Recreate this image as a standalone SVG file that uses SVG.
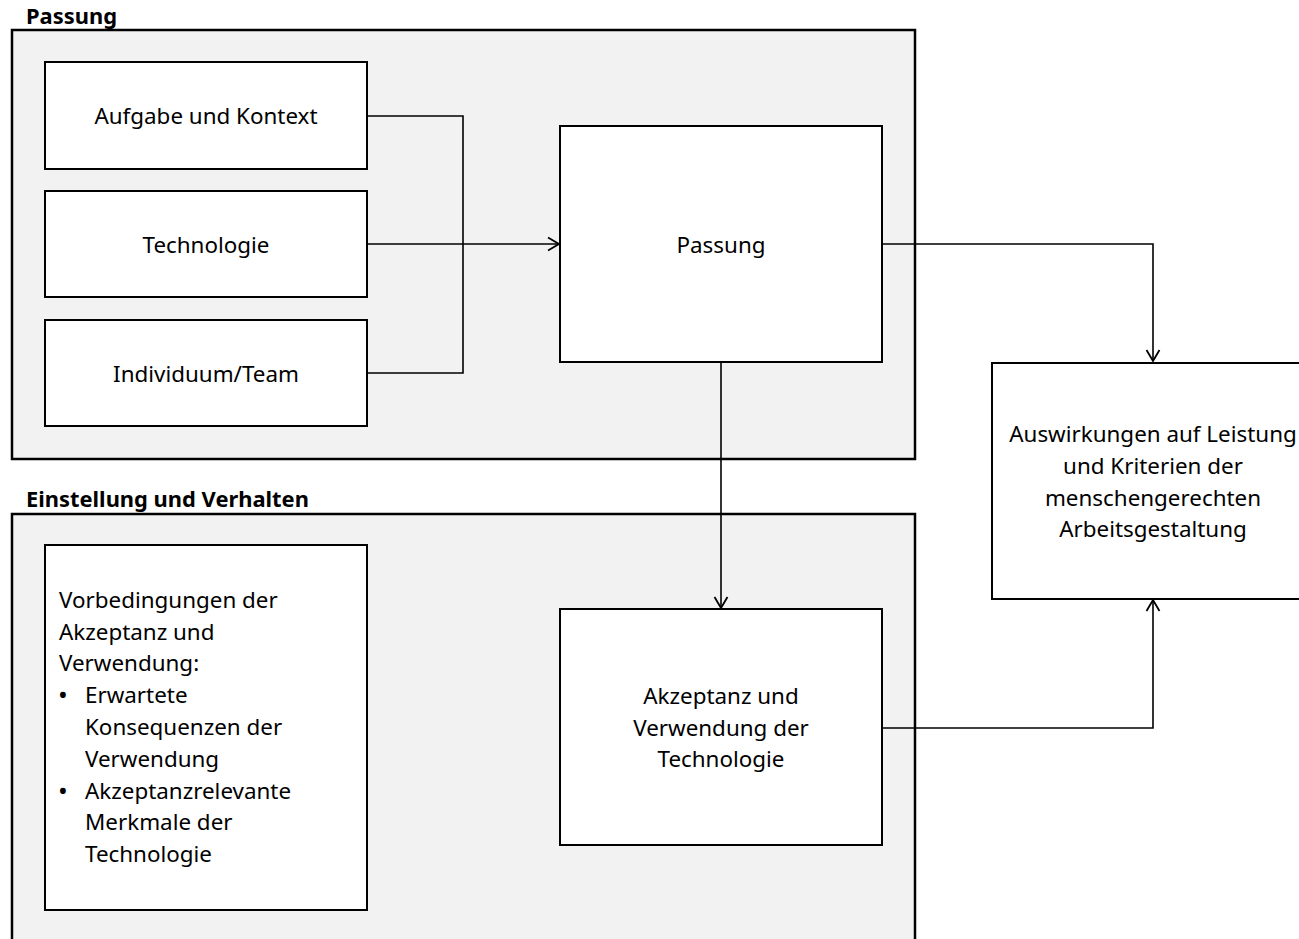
<svg xmlns="http://www.w3.org/2000/svg" width="1299" height="939" viewBox="0 0 1299 939">
<style>
.grp{fill:#f2f2f2;stroke:#000;stroke-width:2.5}
.box{fill:#fff;stroke:#000;stroke-width:2}
.t{font-family:"Noto Sans","Open Sans",sans-serif;font-size:22.4px;fill:#000}
.c{text-anchor:middle}
.b{font-size:26px}
.h{font-family:"Noto Sans","Open Sans",sans-serif;font-size:21.9px;font-weight:bold;fill:#000}
.ln{fill:none;stroke:#000;stroke-width:1.6}
</style>
<defs>
<marker id="arr" markerWidth="16" markerHeight="16" refX="12" refY="8" orient="auto" markerUnits="userSpaceOnUse">
<path d="M1,1.5 L12,8 L1,14.5" fill="none" stroke="#000" stroke-width="1.8"/>
</marker>
</defs>
<g id="group-passung">
<rect class="grp" x="12" y="30" width="903" height="429"/>
<text class="h" x="26" y="24">Passung</text>
</g>
<g id="group-einstellung">
<rect class="grp" x="12" y="514" width="903" height="440"/>
<text class="h" x="26" y="507">Einstellung und Verhalten</text>
</g>
<g id="aufgabe">
<rect class="box" x="45" y="62" width="322" height="107"/>
<text class="t c" x="206" y="124">Aufgabe und Kontext</text>
</g>
<g id="technologie">
<rect class="box" x="45" y="191" width="322" height="106"/>
<text class="t c" x="206" y="253">Technologie</text>
</g>
<g id="individuum">
<rect class="box" x="45" y="320" width="322" height="106"/>
<text class="t c" x="206" y="382">Individuum/Team</text>
</g>
<g id="passung">
<rect class="box" x="560" y="126" width="322" height="236"/>
<text class="t c" x="721" y="253">Passung</text>
</g>
<g id="auswirkungen">
<rect class="box" x="992" y="363" width="320" height="236"/>
<text class="t c" x="1153" y="442">Auswirkungen auf Leistung</text>
<text class="t c" x="1153" y="474">und Kriterien der</text>
<text class="t c" x="1153" y="506">menschengerechten</text>
<text class="t c" x="1153" y="537">Arbeitsgestaltung</text>
</g>
<g id="vorbedingungen">
<rect class="box" x="45" y="545" width="322" height="365"/>
<text class="t" x="59" y="608">Vorbedingungen der</text>
<text class="t" x="59" y="640">Akzeptanz und</text>
<text class="t" x="59" y="671">Verwendung:</text>
<text class="t b" x="58" y="704">•</text>
<text class="t" x="85" y="703">Erwartete</text>
<text class="t" x="85" y="735">Konsequenzen der</text>
<text class="t" x="85" y="767">Verwendung</text>
<text class="t b" x="58" y="800">•</text>
<text class="t" x="85" y="799">Akzeptanzrelevante</text>
<text class="t" x="85" y="830">Merkmale der</text>
<text class="t" x="85" y="862">Technologie</text>
</g>
<g id="akzeptanz">
<rect class="box" x="560" y="609" width="322" height="236"/>
<text class="t c" x="721" y="704">Akzeptanz und</text>
<text class="t c" x="721" y="736">Verwendung der</text>
<text class="t c" x="721" y="767">Technologie</text>
</g>
<g id="connectors">
<polyline class="ln" points="367,116 463,116 463,373 367,373"/>
<line class="ln" x1="367" y1="244" x2="559" y2="244" marker-end="url(#arr)"/>
<polyline class="ln" points="882,244 1153,244 1153,361" marker-end="url(#arr)"/>
<line class="ln" x1="721" y1="362" x2="721" y2="608" marker-end="url(#arr)"/>
<polyline class="ln" points="882,728 1153,728 1153,600" marker-end="url(#arr)"/>
</g>
</svg>
